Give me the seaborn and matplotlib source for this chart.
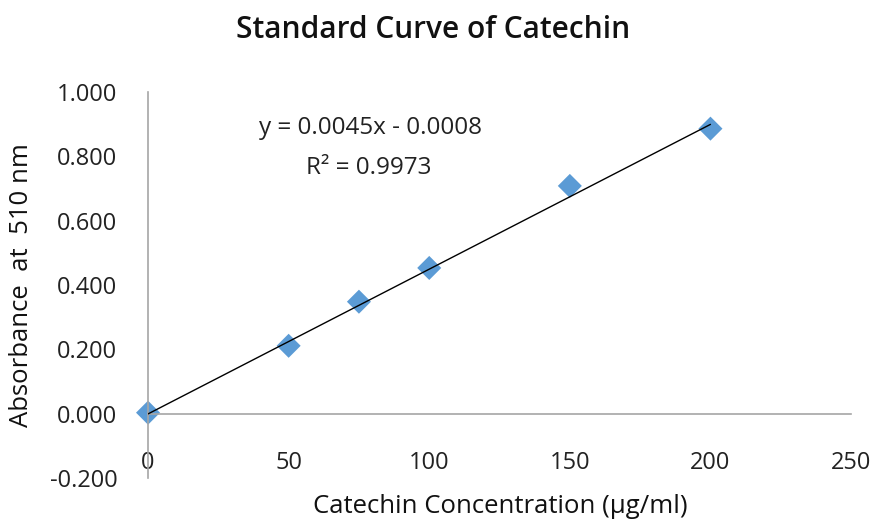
import matplotlib
matplotlib.use("Agg")
import matplotlib.pyplot as plt
import seaborn as sns
import numpy as np
import pandas as pd

# Data
concentration = [0, 50, 75, 100, 150, 200]
absorbance = [0.003, 0.211, 0.348, 0.453, 0.708, 0.886]
slope = 0.0045
intercept = -0.0008
trend_x = [0, 200]
x_ticks = [0, 50, 100, 150, 200, 250]
y_ticks = [-0.2, 0.0, 0.2, 0.4, 0.6, 0.8, 1.0]
title = "Standard Curve of Catechin"
x_label = "Catechin Concentration (μg/ml)"
y_label = "Absorbance  at  510 nm"
eq_text = "y = 0.0045x - 0.0008"
r2_text = "R² = 0.9973"

sns.set_theme(style="white")
plt.rcParams['font.family'] = ['Open Sans', 'DejaVu Sans']

df = pd.DataFrame({"x": concentration, "y": absorbance})
trend_df = pd.DataFrame({"x": trend_x, "y": [slope * v + intercept for v in trend_x]})

fig = plt.figure(figsize=(8.77, 5.22), dpi=100)
ax = fig.add_axes([0.1688, 0.0843, 0.8016, 0.7395])

sns.lineplot(data=trend_df, x="x", y="y", ax=ax, color="black", linewidth=1.0, zorder=3)
sns.scatterplot(data=df, x="x", y="y", ax=ax, marker="D", s=150, color="#5B9BD5",
                edgecolor="none", zorder=2, clip_on=False)

ax.set_xlim(0, 250)
ax.set_ylim(-0.2, 1.0)
ax.set_xticks(x_ticks)
ax.set_yticks(y_ticks)
ax.set_xticklabels([str(v) for v in x_ticks])
ax.set_yticklabels([f"{v:.3f}" for v in y_ticks])

for s in ["top", "right"]:
    ax.spines[s].set_visible(False)
ax.spines["left"].set_position(("data", 0))
ax.spines["bottom"].set_position(("data", 0))
for s in ["left", "bottom"]:
    ax.spines[s].set_color("#A6A6A6")
    ax.spines[s].set_linewidth(1.2)

ax.tick_params(axis="both", length=0, labelsize=17, colors="#222222")
ax.tick_params(axis="y", pad=22)
ax.tick_params(axis="x", pad=27)

ax.set_xlabel("")
ax.set_ylabel("")
fig.text(0.570, 0.029, x_label, ha="center", va="center", fontsize=18.5, color="#111111")
fig.text(0.025, 0.454, y_label, ha="center", va="center", rotation=90, fontsize=18.5, color="#111111")
fig.text(0.494, 0.942, title, ha="center", va="center", fontsize=21.5, fontweight="semibold", color="#111111")

ax.text(0.316, 0.907, eq_text, transform=ax.transAxes,
        ha="center", va="center", fontsize=17.5, color="#222222")
ax.text(0.314, 0.803, r2_text, transform=ax.transAxes,
        ha="center", va="center", fontsize=17.5, color="#222222")

fig.savefig("out.png", dpi=100)
